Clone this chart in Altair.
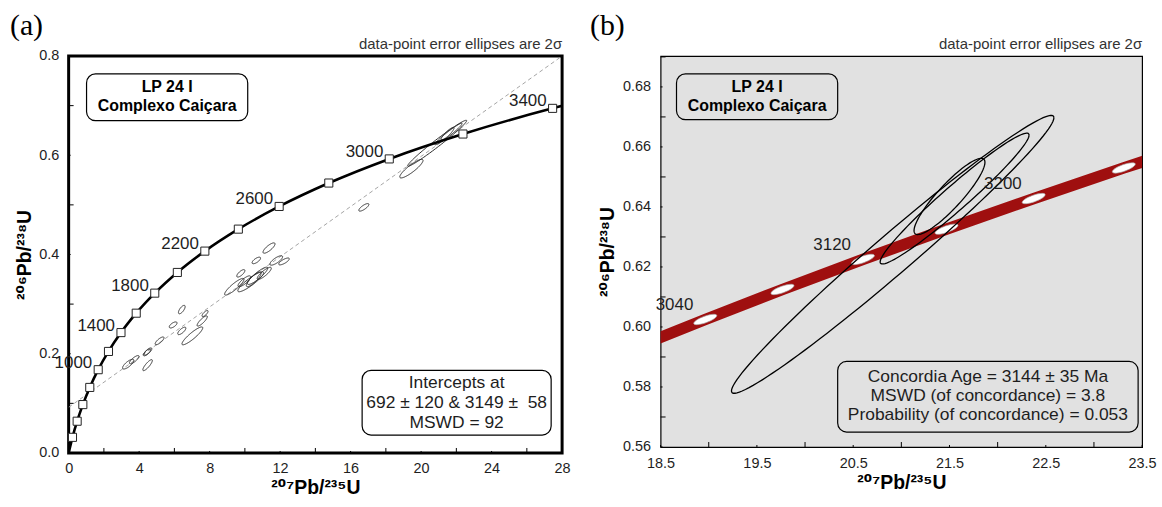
import math
import altair as alt
import pandas as pd

FONT = "Liberation Sans, Arial, DejaVu Sans, sans-serif"
SERIF = "Liberation Serif, Times New Roman, DejaVu Serif, serif"
INK = "#1e1e1e"

# ---------------- data ----------------
# Concordia curve, panel (a): age markers every 200 Ma (x = 207Pb/235U, y = 206Pb/238U)
conc_a_age = [0, 200, 400, 600, 800, 1000, 1200, 1400, 1600, 1800, 2000, 2200,
              2400, 2600, 2800, 3000, 3200, 3400, 3419]
conc_a_x = [0.0, 0.2177, 0.4828, 0.8056, 1.1988, 1.6774, 2.2604, 2.9701, 3.8346,
            4.8868, 6.1684, 7.7287, 9.629, 11.945, 14.762, 18.193, 22.374, 27.462, 28.0]
conc_a_y = [0.0, 0.0315, 0.0640, 0.0975, 0.1321, 0.1678, 0.2046, 0.2426, 0.2817,
            0.3221, 0.3638, 0.4068, 0.4511, 0.4968, 0.5440, 0.5926, 0.6428, 0.6945, 0.6995]
label_a_ages = [1000, 1400, 1800, 2200, 2600, 3000, 3400]

# Discordia (intercepts 692 and 3149 Ma), panel (a)
disc_x = [0.0, 28.0]
disc_y = [0.092, 0.800]

# Data-point error ellipses (2 sigma), panel (a)
ell_a_cx = [3.38, 3.72, 4.50, 4.44, 4.48, 5.16, 5.93, 6.42, 6.42, 7.02, 7.58, 7.74,
            11.37, 10.65, 11.78, 12.22, 9.77, 9.40, 10.33, 10.72, 10.50, 11.10, 9.97,
            16.75, 19.45]
ell_a_cy = [0.179, 0.188, 0.2045, 0.2025, 0.177, 0.226, 0.258, 0.289, 0.246, 0.236,
            0.266, 0.281, 0.413, 0.388, 0.388, 0.386, 0.362, 0.335, 0.345, 0.357,
            0.350, 0.362, 0.346, 0.495, 0.573]
ell_a_sx = [0.32, 0.27, 0.22, 0.20, 0.27, 0.25, 0.22, 0.19, 0.23, 0.59, 0.29, 0.17,
            0.34, 0.24, 0.36, 0.30, 0.23, 0.55, 0.73, 0.575, 0.42, 0.40, 0.36,
            0.285, 0.66]
ell_a_sy = [0.0098, 0.0083, 0.0072, 0.0068, 0.0111, 0.0078, 0.0061, 0.0085, 0.0075,
            0.0180, 0.0103, 0.0061, 0.0104, 0.0066, 0.0095, 0.0069, 0.0075, 0.0168,
            0.0201, 0.0174, 0.0148, 0.0122, 0.0110, 0.0076, 0.0187]
ell_a_rho = [0.77, 0.80, 0.75, 0.75, 0.85, 0.78, 0.65, 0.70, 0.74, 0.90, 0.85, 0.75,
             0.80, 0.70, 0.78, 0.76, 0.74, 0.89, 0.90, 0.89, 0.84, 0.85, 0.82,
             0.78, 0.885]

# Concordant analyses (shown in both panels)
ell_b_cx = [20.91, 21.553, 21.50]
ell_b_cy = [0.6242, 0.6428, 0.6435]
ell_b_sx = [1.674, 0.773, 0.368]
ell_b_sy = [0.0463, 0.0218, 0.0127]
ell_b_rho = [0.983, 0.969, 0.895]

# Concordia band, panel (b): markers every 40 Ma
conc_b_age = [3000, 3040, 3080, 3120, 3160, 3200, 3240, 3280]
conc_b_x = [18.193, 18.964, 19.766, 20.601, 21.469, 22.374, 23.310, 24.288]
conc_b_y = [0.5926, 0.6025, 0.6125, 0.6225, 0.6326, 0.6428, 0.6530, 0.6633]
marker_b_ages = [3040, 3080, 3120, 3160, 3200, 3240]
label_b_ages = [3040, 3120, 3200]

# axis ticks
a_xlab = [0, 4, 8, 12, 16, 20, 24, 28]
a_xmin = [2, 6, 10, 14, 18, 22, 26]
a_ylab = [0.0, 0.2, 0.4, 0.6, 0.8]
a_ymin = [0.1, 0.3, 0.5, 0.7]
b_xlab = [18.5, 19.5, 20.5, 21.5, 22.5, 23.5]
b_xmin = [19.0, 20.0, 21.0, 22.0, 23.0]
b_ylab = [0.56, 0.58, 0.60, 0.62, 0.64, 0.66, 0.68]
b_ymin = [0.57, 0.59, 0.61, 0.63, 0.65, 0.67, 0.69]

# ---------------- helpers ----------------
WA, HA = 496, 399
WB, HB = 484, 393
one = pd.DataFrame({"d": [0]})

XT = "\u00b2\u2070\u2077Pb/\u00b2\u00b3\u2075U"
YT = "\u00b2\u2070\u2076Pb/\u00b2\u00b3\u2078U"


def ellipse_frame(cx, cy, sx, sy, rho, n=120):
    rows = []
    for i in range(len(cx)):
        s = math.sqrt(1 - rho[i] ** 2)
        for k in range(n + 1):
            t = 2 * math.pi * k / n
            rows.append({"id": i, "k": k,
                         "x": cx[i] + sx[i] * math.cos(t),
                         "y": cy[i] + sy[i] * (rho[i] * math.cos(t) + s * math.sin(t))})
    return pd.DataFrame(rows)


def box(x1, y1, x2, y2, fill):
    return alt.Chart(one).mark_rect(cornerRadius=9, fill=fill, stroke="black",
                                    strokeWidth=1.2).encode(
        x=alt.value(x1), x2=alt.value(x2), y=alt.value(y1), y2=alt.value(y2))


def txt(s, x, y, size=17.5, weight="normal", align="center", baseline="middle",
        font=FONT, color=INK):
    return alt.Chart(one).mark_text(text=s, fontSize=size, fontWeight=weight, align=align,
                                    baseline=baseline, font=font, color=color).encode(
        x=alt.value(x), y=alt.value(y))


def ticks(X, Y, xl, xm, yl, ym, H):
    layers = []
    for vals, ln in ((xl, 2), (xm, 5)):
        layers.append(alt.Chart(pd.DataFrame({"x": vals})).mark_rule(color="black", strokeWidth=1)
                      .encode(x=X, y=alt.value(H), y2=alt.value(H - ln)))
    for vals, ln in ((yl, 2), (ym, 5)):
        layers.append(alt.Chart(pd.DataFrame({"y": vals})).mark_rule(color="black", strokeWidth=1)
                      .encode(y=Y, x=alt.value(0), x2=alt.value(ln)))
    return layers


# ---------------- panel (a) ----------------
XA = alt.X("x:Q", scale=alt.Scale(domain=[0, 28], nice=False, zero=False),
           axis=alt.Axis(values=a_xlab, format="d", ticks=False, domain=False, grid=False,
                         labelFontSize=14.5, labelColor=INK, labelPadding=9, labelFlush=False,
                         labelOverlap=False, title=XT, titleFontSize=19.5, titleFontWeight="bold",
                         titleColor="black", titlePadding=3))
YA = alt.Y("y:Q", scale=alt.Scale(domain=[0, 0.8], nice=False, zero=False),
           axis=alt.Axis(values=a_ylab, format=".1f", ticks=False, domain=False, grid=False,
                         labelFontSize=14.5, labelColor=INK, labelPadding=10, labelFlush=False,
                         labelOverlap=False, title=YT, titleFontSize=19.5, titleFontWeight="bold",
                         titleColor="black", titlePadding=4))

conc_a = pd.DataFrame({"age": conc_a_age, "x": conc_a_x, "y": conc_a_y})
mark_a = conc_a[(conc_a.age > 0) & (conc_a.age <= 3400) & (conc_a.age % 200 == 0)]
lab_a = conc_a[conc_a.age.isin(label_a_ages)]
ell_all_a = ellipse_frame(ell_a_cx + ell_b_cx, ell_a_cy + ell_b_cy, ell_a_sx + ell_b_sx,
                          ell_a_sy + ell_b_sy, ell_a_rho + ell_b_rho)

pa_layers = [
    alt.Chart(pd.DataFrame({"x": disc_x, "y": disc_y})).mark_line(
        color="#9a9a9a", strokeWidth=0.9, strokeDash=[4, 3], clip=True).encode(x=XA, y=YA),
    alt.Chart(ell_all_a).mark_line(color="#2a2a2a", strokeWidth=1, clip=True).encode(
        x=XA, y=YA, detail="id:N", order="k:Q"),
    alt.Chart(conc_a).mark_line(color="black", strokeWidth=2.6, interpolate="monotone",
                                clip=True).encode(x=XA, y=YA, order="age:Q"),
    alt.Chart(mark_a).mark_square(size=66, filled=True, fill="white", stroke="#222",
                                  strokeWidth=1, opacity=1).encode(x=XA, y=YA),
    alt.Chart(lab_a).mark_text(align="right", baseline="alphabetic", dx=-6, dy=-2,
                               fontSize=17, color=INK).encode(
        x=XA, y=YA, text=alt.Text("age:Q", format="d")),
] + ticks(XA, YA, a_xlab, a_xmin, a_ylab, a_ymin, HA) + [
    box(18, 18, 180, 65, "white"),
    txt("LP 24 I", 99, 31, size=16, weight="bold", color="black"),
    txt("Complexo Caiçara", 99, 50, size=16, weight="bold", color="black"),
    box(295, 316, 485, 381, "white"),
    txt("Intercepts at", 390, 329),
    txt("692 ± 120 & 3149 ±\u00a0 58", 390, 349),
    txt("MSWD = 92", 390, 369),
    txt("data-point error ellipses are 2σ", WA, -7, size=15, align="right",
        baseline="alphabetic", color="#333"),
    txt("(a)", -59, -21, size=30, align="left", baseline="alphabetic", font=SERIF,
        color="black"),
]
panel_a = alt.layer(*pa_layers).properties(
    width=WA, height=HA,
    view=alt.ViewBackground(fill="white", stroke="black", strokeWidth=3))

# ---------------- panel (b) ----------------
XB = alt.X("x:Q", scale=alt.Scale(domain=[18.5, 23.5], nice=False, zero=False),
           axis=alt.Axis(values=b_xlab, format=".1f", ticks=False, domain=False, grid=False,
                         labelFontSize=14.5, labelColor=INK, labelPadding=10, labelFlush=False,
                         labelOverlap=False, title=XT, titleFontSize=19.5, titleFontWeight="bold",
                         titleColor="black", titlePadding=3))
YB = alt.Y("y:Q", scale=alt.Scale(domain=[0.56, 0.6903], nice=False, zero=False),
           axis=alt.Axis(values=b_ylab, format=".2f", ticks=False, domain=False, grid=False,
                         labelFontSize=14.5, labelColor=INK, labelPadding=10, labelFlush=False,
                         labelOverlap=False, title=YT, titleFontSize=19.5, titleFontWeight="bold",
                         titleColor="black", titlePadding=5))

conc_b = pd.DataFrame({"age": conc_b_age, "x": conc_b_x, "y": conc_b_y})
mark_b = conc_b[conc_b.age.isin(marker_b_ages)]
lab_b = conc_b[conc_b.age.isin(label_b_ages)]
ell_b = ellipse_frame(ell_b_cx, ell_b_cy, ell_b_sx, ell_b_sy, ell_b_rho)
ELL_PATH = "M-1,0 A1,0.27 0 1,1 1,0 A1,0.27 0 1,1 -1,0 Z"
BG = "#e1e1e1"

pb_layers = [
    alt.Chart(conc_b).mark_line(color="#9f0f0f", strokeWidth=11.5, strokeCap="butt",
                                interpolate="monotone", clip=True).encode(
        x=XB, y=YB, order="age:Q"),
    alt.Chart(mark_b).mark_point(shape=ELL_PATH, size=600, angle=340, filled=True,
                                 fill="white", stroke="#aaaaaa", strokeWidth=0.6,
                                 opacity=1, clip=True).encode(x=XB, y=YB),
    alt.Chart(ell_b).mark_line(color="black", strokeWidth=1.3, clip=True).encode(
        x=XB, y=YB, detail="id:N", order="k:Q"),
    alt.Chart(lab_b).mark_text(align="right", baseline="alphabetic", dx=-12, dy=-10,
                               fontSize=17, color=INK).encode(
        x=XB, y=YB, text=alt.Text("age:Q", format="d")),
] + ticks(XB, YB, b_xlab, b_xmin, b_ylab, b_ymin, HB) + [
    box(16, 18, 178, 64, BG),
    txt("LP 24 I", 97, 31, size=16, weight="bold", color="black"),
    txt("Complexo Caiçara", 97, 50, size=16, weight="bold", color="black"),
    box(178, 307, 480, 378, BG),
    txt("Concordia Age = 3144 ± 35 Ma", 329, 323),
    txt("MSWD (of concordance) = 3.8", 329, 342),
    txt("Probability (of concordance) = 0.053", 329, 361),
    txt("data-point error ellipses are 2σ", WB, -7, size=15, align="right",
        baseline="alphabetic", color="#333"),
    txt("(b)", -71, -21, size=30, align="left", baseline="alphabetic", font=SERIF,
        color="black"),
]
panel_b = alt.layer(*pb_layers).properties(
    width=WB, height=HB,
    view=alt.ViewBackground(fill=BG, stroke="black", strokeWidth=1.2))

chart = alt.hconcat(panel_a, panel_b, spacing=17).properties(
    padding={"left": 8, "top": 8, "right": 5, "bottom": 5},
    background="white",
).configure(font=FONT)

chart.save("out.html", embed_options={"renderer": "svg", "actions": False})
